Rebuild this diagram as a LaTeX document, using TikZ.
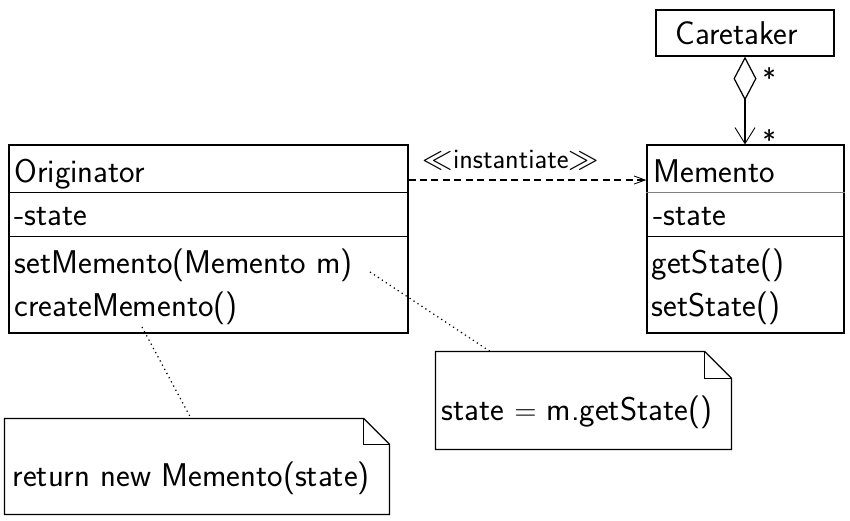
\documentclass[tikz,border=0pt]{standalone}
\usepackage{fontspec}
\usetikzlibrary{arrows.meta}

\tikzset{
    classbox/.style={draw, inner sep=0pt},
    member/.style={anchor=base west, inner sep=0pt},
    notebox/.style={inner sep=0pt},
    small/.style={font=\sffamily\fontsize{16}{19}\selectfont},
}

\begin{document}
\begin{tikzpicture}[x=0.02cm, y=-0.02cm, line width=0.7pt, font=\sffamily\fontsize{18.7}{22}\selectfont]
    \useasboundingbox (0,0) rectangle (850,521);

    % classes
    \node[classbox, minimum width=7.98cm, minimum height=3.76cm] (orig) at (208.5,239) {};
    \node[classbox, minimum width=3.94cm, minimum height=3.76cm] (mem) at (745.5,239) {};
    \node[classbox, minimum width=3.56cm, minimum height=0.92cm] (care) at (745,33) {\hspace*{-0.34cm}Caretaker};

    \draw ([yshift=-0.96cm]orig.north west) -- ([yshift=-0.96cm]orig.north east);
    \draw ([yshift=-1.84cm]orig.north west) -- ([yshift=-1.84cm]orig.north east);
    \draw[gray] ([yshift=-0.96cm]mem.north west) -- ([yshift=-0.96cm]mem.north east);
    \draw ([yshift=-1.84cm]mem.north west) -- ([yshift=-1.84cm]mem.north east);

    \node[member] (origname) at (14,182) {Originator};
    \node[member] (origattr) at (14,225) {-state};
    \node[member] (origset) at (14,273) {setMemento(Memento m)};
    \node[member] (origcreate) at (14,316) {createMemento()};

    \node[member] (memname) at (653,182) {Memento};
    \node[member] (memattr) at (653,225) {-state};
    \node[member] (memget) at (651,273) {getState()};
    \node[member] (memset) at (651,316) {setState()};

    % notes
    \node[notebox, minimum width=5.9cm, minimum height=1.94cm] (note1) at (583.5,400.5) {};
    \draw (note1.north west) -- ([xshift=-0.54cm]note1.north east) -- ([yshift=-0.54cm]note1.north east)
        -- (note1.south east) -- (note1.south west) -- cycle;
    \draw ([xshift=-0.54cm]note1.north east) |- ([yshift=-0.54cm]note1.north east);
    \node[member] (note1txt) at (441,420) {state $=$ m.getState()};

    \node[notebox, minimum width=7.68cm, minimum height=1.9cm] (note2) at (197,466.5) {};
    \draw (note2.north west) -- ([xshift=-0.52cm]note2.north east) -- ([yshift=-0.52cm]note2.north east)
        -- (note2.south east) -- (note2.south west) -- cycle;
    \draw ([xshift=-0.52cm]note2.north east) |- ([yshift=-0.52cm]note2.north east);
    \node[member] (note2txt) at (12,486) {return new Memento(state)};

    % connectors
    \draw[dash pattern=on 4pt off 2.5pt, -{Straight Barb[length=0.22cm, width=0.16cm, line width=0.5pt]}]
        ([yshift=1.18cm]orig.east) -- ([yshift=1.18cm]mem.west)
        node[pos=0.43, above, yshift=2pt, small] (inst) {$\ll$instantiate$\gg$};

    \draw[{Diamond[open, length=0.88cm, width=0.46cm]}-{Straight Barb[length=0.32cm, width=0.4cm, line width=0.5pt]}]
        (care.south) -- (care.south |- mem.north)
        node[pos=0.24, anchor=west, xshift=0.34cm, inner sep=0, small] (mult1) {*}
        node[pos=0.95, anchor=west, xshift=0.34cm, inner sep=0, small] (mult2) {*};

    \coordinate (setend) at (370,272);
    \coordinate (createend) at (142,327);
    \draw[dotted] (setend) -- ([xshift=-1.87cm]note1.north);
    \draw[dotted] (createend) -- ([xshift=-0.12cm]note2.north);
\end{tikzpicture}
\end{document}
